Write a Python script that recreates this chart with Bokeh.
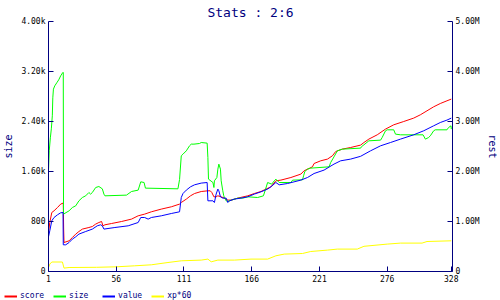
from bokeh.plotting import figure
from bokeh.layouts import column, row
from bokeh.models import Range1d, LinearAxis, FixedTicker, Legend, LegendItem
from bokeh.embed import file_html
from bokeh.resources import INLINE

# ---------------- data ----------------
x_ticks = [1, 56, 111, 166, 221, 276, 328]
size_ticks = [0, 800, 1600, 2400, 3200, 4000]
size_tick_labels = ["0", "800", "1.60k", "2.40k", "3.20k", "4.00k"]
rest_ticks = [0, 1, 2, 3, 4, 5]
rest_tick_labels = ["0", "1.00M", "2.00M", "3.00M", "4.00M", "5.00M"]

size_x = [1, 1.6, 2.5, 3.3, 4.1, 4.5, 5, 6.1, 7.7, 9.3, 10.9, 12.6, 13, 13.2, 17.7, 20.4, 23.1, 25.7,
          28.5, 31.2, 33.8, 35.2, 36.6, 39.3, 41.9, 44.7, 46, 46.8, 64.3, 68.4, 73.8, 75.9, 78.6, 79.7,
          106.1, 107.4, 108.8, 110.2, 112.9, 115.5, 116.9, 119.1, 123.6, 125, 129.8, 130.4, 130.9, 134.5,
          135.3, 135.7, 137.7, 138.5, 139.3, 140.6, 141.2, 142.5, 143.3, 143.8, 145.2, 146.6, 149.3,
          154.7, 158.7, 162.8, 170.8, 175.5, 176.8, 178.9, 182.2, 184.3, 185.6, 188.3, 197.8, 199.2,
          207.2, 208.1, 209.1, 211.3, 213.9, 228.8, 230.1, 232.8, 235.5, 239.6, 254.4, 255, 257.1, 261.1,
          270.6, 271.9, 274.6, 276, 281.3, 282.7, 286.8, 305.1, 307, 309.6, 311, 313.7, 315, 324.5,
          325.8, 327.8, 328]
size = [1611, 1931, 2139, 2283, 2491, 2779, 2918, 2971, 3019, 3067, 3131, 3184, 3184, 918, 971, 1024,
        1051, 1131, 1184, 1211, 1264, 1238, 1264, 1344, 1360, 1323, 1238, 1211, 1222, 1280, 1302, 1435,
        1424, 1334, 1323, 1472, 1851, 1878, 1931, 2011, 2038, 2038, 2048, 2064, 2054, 1824, 1478, 1424,
        1344, 1451, 1504, 1638, 1718, 1638, 1451, 1291, 1211, 1184, 1131, 1120, 1142, 1174, 1174, 1195,
        1184, 1211, 1291, 1424, 1398, 1451, 1478, 1424, 1424, 1462, 1467, 1531, 1600, 1638, 1654, 1675,
        1744, 1835, 1931, 1958, 1974, 1995, 2027, 2091, 2102, 2144, 2251, 2267, 2267, 2198, 2187, 2187,
        2118, 2144, 2171, 2251, 2267, 2267, 2304, 2331, 2278]

score_x = [1, 2.05, 3.67, 5.5, 8.3, 10.9, 12.8, 13, 13.3, 13.6, 17.7, 20.4, 23.1, 25.7, 28.5, 33.8, 36.6,
           39.3, 41.9, 44.1, 45.2, 46.8, 52.2, 60.3, 68.4, 73.8, 79.1, 84.5, 92.6, 100.7, 107.4, 108.8,
           112.9, 116.3, 119.6, 125, 130.4, 132.3, 133.6, 135.3, 137.1, 138.5, 141.2, 143.8, 146.6, 149.3,
           154.7, 162.8, 168.1, 173.5, 177.6, 181.6, 185.6, 189.7, 197.8, 205.9, 208.5, 215.3, 216.6, 222,
           227.5, 231.5, 234.2, 239.6, 246.3, 254.4, 257.1, 261.1, 267.9, 274.6, 281.3, 289.4, 297.5,
           302.9, 308.3, 313.7, 319.1, 324.5, 328]
score_m = [0.78, 0.98, 1.18, 1.214, 1.28, 1.348, 1.368, 1.37, 0.85, 0.58, 0.614, 0.68, 0.748, 0.8, 0.848,
           0.88, 0.9, 0.948, 0.98, 1.0, 0.914, 0.934, 0.96, 1.0, 1.048, 1.114, 1.148, 1.194, 1.248, 1.294,
           1.348, 1.38, 1.448, 1.514, 1.56, 1.6, 1.614, 1.614, 1.58, 1.494, 1.494, 1.514, 1.494, 1.468,
           1.428, 1.428, 1.468, 1.514, 1.56, 1.6, 1.648, 1.694, 1.814, 1.828, 1.88, 1.948, 2.014, 2.094,
           2.16, 2.214, 2.248, 2.314, 2.4, 2.448, 2.48, 2.528, 2.58, 2.648, 2.734, 2.848, 2.934, 3.0, 3.068,
           3.134, 3.214, 3.294, 3.36, 3.414, 3.448]

value_x = [1, 2.05, 3.67, 5.5, 8.3, 10.9, 12.8, 13, 15, 17.7, 20.4, 23.1, 25.7, 31.2, 36.6, 40.6, 43.3,
           44.7, 46, 54.9, 65.7, 73.8, 75.9, 79.1, 81.9, 84.5, 92.6, 100.7, 107.4, 108.8, 110.2, 112.9,
           116.3, 119.6, 125, 129.8, 130.4, 134.5, 135.7, 137.1, 138.5, 139.3, 140.6, 142.5, 145.2, 146.6,
           147.9, 151.9, 157.3, 162.8, 168.1, 173.5, 178.9, 181.6, 185.6, 188.3, 195.1, 205.9, 211.3,
           216.6, 224.7, 232.8, 238.2, 246.3, 254.4, 262.5, 270.6, 278.7, 286.8, 297.5, 305.6, 313.7,
           319.1, 324.5, 328]
value_m = [0.694, 0.814, 1.014, 1.08, 1.134, 1.174, 1.18, 0.534, 0.534, 0.58, 0.648, 0.694, 0.748, 0.8,
           0.848, 0.914, 0.934, 0.914, 0.848, 0.88, 0.914, 0.98, 1.08, 1.08, 1.048, 1.08, 1.114, 1.16,
           1.194, 1.48, 1.56, 1.628, 1.694, 1.734, 1.768, 1.78, 1.414, 1.414, 1.38, 1.548, 1.648, 1.614,
           1.494, 1.468, 1.468, 1.38, 1.414, 1.448, 1.468, 1.494, 1.548, 1.594, 1.648, 1.694, 1.78, 1.734,
           1.76, 1.828, 1.88, 1.96, 2.028, 2.148, 2.214, 2.248, 2.304, 2.414, 2.514, 2.58, 2.648, 2.734,
           2.814, 2.914, 2.98, 3.028, 3.068]

xp_x = [1, 2.05, 3.67, 12.3, 13.6, 17.7, 40, 56.2, 71, 84.5, 98, 108.8, 125, 130.4, 133.1, 138.5, 151.9,
        165.4, 178.9, 185.6, 192.4, 207.2, 213.9, 227.5, 235.5, 251.7, 257.1, 276, 286.8, 304.3, 308.3, 328]
xp60_m = [0.08, 0.148, 0.19, 0.19, 0.068, 0.08, 0.084, 0.094, 0.114, 0.134, 0.18, 0.214, 0.228, 0.248,
          0.194, 0.228, 0.228, 0.248, 0.248, 0.314, 0.348, 0.36, 0.4, 0.428, 0.448, 0.448, 0.504, 0.548,
          0.568, 0.568, 0.6, 0.614]

series_names = ["score", "size", "value", "xp*60"]
series_colors = ["#ff0000", "#00ff00", "#0000ff", "#ffff00"]

# ---------------- figure ----------------
NAVY = "#000080"
MONO = "DejaVu Sans Mono"

p = figure(width=500, height=288, output_backend="svg", toolbar_location=None,
           x_range=Range1d(1, 329), y_range=Range1d(0, 4000),
           min_border_left=46, min_border_right=47, min_border_top=20, min_border_bottom=17,
           title="Stats : 2:6")
p.extra_y_ranges = {"rest": Range1d(0, 5)}
p.outline_line_color = None
p.grid.visible = False
p.background_fill_color = "white"
p.border_fill_color = "white"

p.title.align = "center"
p.title.text_font = MONO
p.title.text_font_size = "13px"
p.title.text_font_style = "normal"
p.title.text_color = NAVY
p.title.standoff = 4

right = LinearAxis(y_range_name="rest")
p.add_layout(right, "right")

for ax in [p.xaxis[0], p.yaxis[0], right]:
    ax.axis_line_color = NAVY
    ax.major_tick_line_color = NAVY
    ax.minor_tick_line_color = None
    ax.major_tick_in = 5
    ax.major_tick_out = 0
    ax.major_label_text_font = MONO
    ax.major_label_text_font_size = "8px"
    ax.major_label_text_color = "black"
    ax.major_label_standoff = 3
    ax.axis_label_text_font = MONO
    ax.axis_label_text_font_size = "10px"
    ax.axis_label_text_font_style = "normal"
    ax.axis_label_text_color = NAVY
    ax.axis_label_standoff = 4

p.xaxis[0].ticker = FixedTicker(ticks=x_ticks)
p.xaxis[0].major_label_overrides = {t: str(t) for t in x_ticks}
p.yaxis[0].ticker = FixedTicker(ticks=size_ticks)
p.yaxis[0].major_label_overrides = dict(zip(size_ticks, size_tick_labels))
p.yaxis[0].axis_label = "size"
right.ticker = FixedTicker(ticks=rest_ticks)
right.major_label_overrides = dict(zip(rest_ticks, rest_tick_labels))
right.axis_label = "rest"

series_data = [(score_x, score_m), (size_x, size), (value_x, value_m), (xp_x, xp60_m)]

p.line(xp_x, xp60_m, color=series_colors[3], line_width=1, y_range_name="rest")
p.line(score_x, score_m, color=series_colors[0], line_width=1, y_range_name="rest")
p.line(size_x, size, color=series_colors[1], line_width=1)
p.line(value_x, value_m, color=series_colors[2], line_width=1, y_range_name="rest")

# ---------------- legend strip ----------------
# the strip's ranges lie far outside the data, so its lines only serve as legend keys
lg = figure(width=500, height=12, output_backend="svg", toolbar_location=None,
            x_axis_type=None, y_axis_type=None,
            min_border_left=0, min_border_right=0, min_border_top=0, min_border_bottom=0,
            x_range=Range1d(-2000, -1000), y_range=Range1d(-20000, -10000))
lg.outline_line_color = None
lg.grid.visible = False
lg.background_fill_color = "white"
lg.border_fill_color = "white"

items = []
for name, col, (xs, ys) in zip(series_names, series_colors, series_data):
    r = lg.line(xs, ys, color=col, line_width=2)
    items.append(LegendItem(label=name, renderers=[r]))

legend = Legend(items=items, orientation="horizontal", location=(4, 0),
                glyph_width=13, glyph_height=8, label_height=8, label_standoff=3,
                label_width=24, spacing=9, padding=0, margin=0,
                label_text_font=MONO, label_text_font_size="8px", label_text_color=NAVY,
                border_line_color=None, background_fill_alpha=0)
lg.add_layout(legend, "center")

layout = column(p, row(lg, spacing=0), spacing=0)
open("out.html", "w").write(file_html(layout, INLINE))
